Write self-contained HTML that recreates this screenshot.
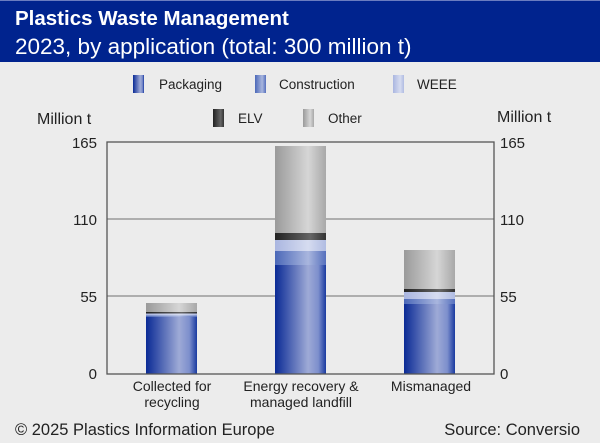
<!DOCTYPE html>
<html><head><meta charset="utf-8"><style>
html,body{margin:0;padding:0;background:#ececec;}
svg{display:block;font-family:"Liberation Sans",sans-serif;}
</style></head><body>
<svg width="600" height="443" viewBox="0 0 600 443" xmlns="http://www.w3.org/2000/svg">
<defs>
<linearGradient id="pk" x1="0" x2="1"><stop offset="0" stop-color="#0a2a95"/><stop offset="0.65" stop-color="#9eaad6"/><stop offset="0.85" stop-color="#7d8fcc"/><stop offset="1" stop-color="#1a3aa0"/></linearGradient>
<linearGradient id="co" x1="0" x2="1"><stop offset="0" stop-color="#4b68b8"/><stop offset="0.65" stop-color="#a9b6de"/><stop offset="1" stop-color="#5670bd"/></linearGradient>
<linearGradient id="we" x1="0" x2="1"><stop offset="0" stop-color="#aab6e0"/><stop offset="0.65" stop-color="#d6dcf0"/><stop offset="1" stop-color="#b0bce2"/></linearGradient>
<linearGradient id="el" x1="0" x2="1"><stop offset="0" stop-color="#222"/><stop offset="0.7" stop-color="#666"/><stop offset="1" stop-color="#333"/></linearGradient>
<linearGradient id="ot" x1="0" x2="1"><stop offset="0" stop-color="#9a9a9a"/><stop offset="0.65" stop-color="#d6d6d6"/><stop offset="1" stop-color="#a8a8a8"/></linearGradient>
</defs>
<rect x="0" y="0" width="600" height="62" fill="#00238e"/>
<rect x="0" y="0" width="600" height="1" fill="#6a7cc0"/>
<text x="15" y="25" fill="#fff" font-size="20.5" font-weight="bold">Plastics Waste Management</text>
<text x="15" y="54" fill="#fff" font-size="22.5">2023, by application (total: 300 million t)</text>
<g font-size="13.5" fill="#222">
<rect x="133" y="75" width="11" height="18" fill="url(#pk)"/><text x="159" y="89">Packaging</text>
<rect x="255" y="75" width="11" height="18" fill="url(#co)"/><text x="279" y="89">Construction</text>
<rect x="393" y="75" width="11" height="18" fill="url(#we)"/><text x="417" y="89">WEEE</text>
<rect x="213" y="109" width="11" height="18" fill="url(#el)"/><text x="238" y="123">ELV</text>
<rect x="303" y="109" width="11" height="18" fill="url(#ot)"/><text x="328" y="123">Other</text>
</g>
<g font-size="16" fill="#222">
<text x="37" y="124">Million t</text>
<text x="497" y="122">Million t</text>
</g>
<g stroke="#999" stroke-width="1.5"><line x1="107" y1="219" x2="494" y2="219"/><line x1="107" y1="296" x2="494" y2="296"/></g>
<g font-size="15" fill="#222">
<text x="97" y="148" text-anchor="end">165</text><text x="97" y="225" text-anchor="end">110</text><text x="97" y="302" text-anchor="end">55</text><text x="97" y="379" text-anchor="end">0</text>
<text x="500" y="148">165</text><text x="500" y="225">110</text><text x="500" y="302">55</text><text x="500" y="379">0</text>
</g>
<rect x="146" y="303" width="51" height="9" fill="url(#ot)"/>
<rect x="146" y="312" width="51" height="1.5" fill="url(#el)"/>
<rect x="146" y="313.5" width="51" height="2" fill="url(#we)"/>
<rect x="146" y="315.5" width="51" height="1.5" fill="url(#co)"/>
<rect x="146" y="317" width="51" height="57" fill="url(#pk)"/>
<rect x="275" y="146" width="51" height="87" fill="url(#ot)"/>
<rect x="275" y="233" width="51" height="7" fill="url(#el)"/>
<rect x="275" y="240" width="51" height="11" fill="url(#we)"/>
<rect x="275" y="251" width="51" height="14" fill="url(#co)"/>
<rect x="275" y="265" width="51" height="109" fill="url(#pk)"/>
<rect x="404" y="250" width="51" height="39" fill="url(#ot)"/>
<rect x="404" y="289" width="51" height="3" fill="url(#el)"/>
<rect x="404" y="292" width="51" height="7" fill="url(#we)"/>
<rect x="404" y="299" width="51" height="5" fill="url(#co)"/>
<rect x="404" y="304" width="51" height="70" fill="url(#pk)"/>
<rect x="107" y="142" width="387" height="232" fill="none" stroke="#555" stroke-width="1.3"/>
<g font-size="14" fill="#222" text-anchor="middle">
<text x="172" y="391">Collected for</text><text x="172" y="407">recycling</text>
<text x="301" y="391">Energy recovery &amp;</text><text x="301" y="407">managed landfill</text>
<text x="431" y="391">Mismanaged</text>
</g>
<text x="15" y="435" font-size="16.5" fill="#222">© 2025 Plastics Information Europe</text>
<text x="580" y="435" font-size="16.5" fill="#222" text-anchor="end">Source: Conversio</text>
</svg>
</body></html>
